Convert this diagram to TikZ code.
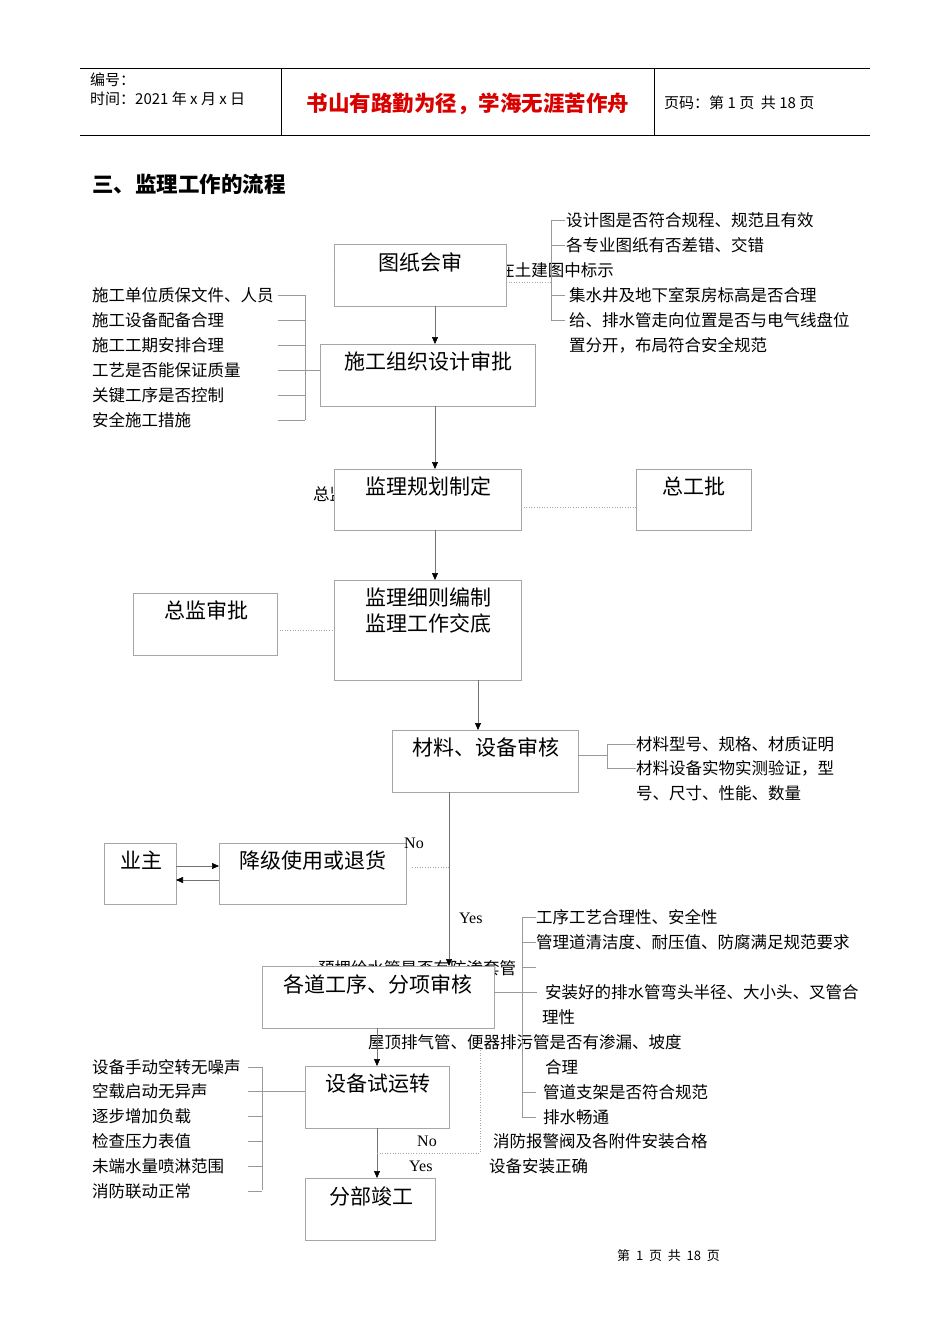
\documentclass[tikz,border=0pt]{standalone}
\usepackage{fontspec}
\setmainfont{Noto Sans CJK SC}
\newfontfamily\serifl{Liberation Serif}
\usetikzlibrary{arrows.meta}
\begin{document}
\begin{tikzpicture}[x=1pt,y=-1pt,
 bx/.style={draw=gray!70,fill=white,line width=0.6pt},
 lb/.style={inner sep=0,anchor=north,font=\fontsize{21}{25}\selectfont},
 tx/.style={inner sep=0,anchor=west,font=\fontsize{16.5}{19}\selectfont},
 ln/.style={draw=gray!80,line width=0.5pt},
 dl/.style={draw=gray!70,dotted,line width=0.6pt},
 ar/.style={draw=gray!90!black,line width=0.6pt,-{Triangle[length=7pt,width=6pt,black]}}]
\useasboundingbox[fill=white] (0,0) rectangle (950,1344);
% header
\draw[line width=0.6pt] (80,68)--(870,68) (80,135)--(870,135) (281,68)--(281,135) (654,68)--(654,135);
\node[tx,font=\fontsize{15}{17}\selectfont] (h1) at (90,80) {编号：};
\node[tx,font=\fontsize{15}{17}\selectfont] (h2) at (90,99) {时间：2021 年 x 月 x 日};
\node[inner sep=0,text=red!85!black,font=\bfseries\fontsize{21.5}{25}\selectfont] (h3) at (468,104) {书山有路勤为径，学海无涯苦作舟};
\node[tx,font=\fontsize{15}{17}\selectfont] (h4) at (664,103) {页码：第 1 页\ \ 共 18 页};
\node[tx,font=\bfseries\fontsize{21.5}{25}\selectfont] (t) at (92,184) {三、监理工作的流程};
\node[tx,font=\fontsize{13}{15}\selectfont] (f) at (617,1256) {第\ \ 1\ \ 页\ \ 共\ \ 18\ \ 页};
% hidden texts
\node[tx,anchor=east] (hid1) at (614,270) {各种管道预留孔洞是否在土建图中标示};
\node[tx] (hid2) at (313,494) {总监审批};
\node[tx] (hid3) at (318,968) {预埋给水管是否有防渗套管};
% right bracket of 图纸
\draw[ln] (551,220)--(551,320);
\foreach \y in {220,245,295,320} \draw[ln] (551,\y)--(565,\y);
\draw[dl] (506,282)--(551,282);
\node[tx] at (566,220) {设计图是否符合规程、规范且有效};
\node[tx] at (566,245) {各专业图纸有否差错、交错};
\node[tx] at (569,295) {集水井及地下室泵房标高是否合理};
\node[tx] at (569,320) {给、排水管走向位置是否与电气线盘位};
\node[tx] at (569,345) {置分开，布局符合安全规范};
% boxes
\draw[bx] (334,244) rectangle (506,306); \node[lb] (b1) at (420,253) {图纸会审};
\draw[bx] (320,344) rectangle (535,406); \node[lb] (b2) at (428,352) {施工组织设计审批};
\draw[bx] (334,469) rectangle (521,530); \node[lb] (b3) at (428,477) {监理规划制定};
\draw[bx] (636,469) rectangle (751,530); \node[lb] (b4) at (694,477) {总工批};
\draw[bx] (133,593) rectangle (277,655); \node[lb] (b5) at (206,601) {总监审批};
\draw[bx] (334,580) rectangle (521,680); \node[lb,align=center,font=\fontsize{21}{26}\selectfont] (b6) at (428,588) {监理细则编制\\监理工作交底};
\draw[bx] (392,730) rectangle (578,792); \node[lb] (b7) at (486,738) {材料、设备审核};
\draw[bx] (104,843) rectangle (176,904); \node[lb] (b8) at (141,851) {业主};
\draw[bx] (219,843) rectangle (406,904); \node[lb] (b9) at (313,851) {降级使用或退货};
\draw[bx] (262,966) rectangle (494,1028); \node[lb] (b10) at (378,974) {各道工序、分项审核};
\draw[bx] (305,1066) rectangle (449,1128); \node[lb] (b11) at (378,1074) {设备试运转};
\draw[bx] (305,1178) rectangle (435,1240); \node[lb] (b12) at (371,1186) {分部竣工};
% dotted links
\draw[dl] (521,507)--(636,507);
\draw[dl] (277,630)--(334,630);
% left bracket 施工
\draw[ln] (305,295)--(305,420) (305,370)--(320,370);
\foreach \y/\t in {295/施工单位质保文件、人员,320/施工设备配备合理,345/施工工期安排合理,370/工艺是否能保证质量,395/关键工序是否控制,420/安全施工措施}
 {\draw[ln] (278,\y)--(305,\y); \node[tx] at (92,\y) {\t};}
% bracket 材料
\draw[ln] (578,755)--(607,755) (607,744)--(607,768) (607,744)--(636,744) (607,768)--(636,768);
\node[tx] at (636,744) {材料型号、规格、材质证明};
\node[tx] at (636,768) {材料设备实物实测验证，型};
\node[tx] at (636,793) {号、尺寸、性能、数量};
% bracket 各道
\draw[ln] (522,917)--(522,1117) (494,992)--(537,992);
\foreach \y in {917,942,967,1092,1117} \draw[ln] (522,\y)--(536,\y);
\node[tx] at (536,917) {工序工艺合理性、安全性};
\node[tx] at (536,942) {管理道清洁度、耐压值、防腐满足规范要求};
\node[tx] at (545,992) {安装好的排水管弯头半径、大小头、叉管合};
\node[tx] at (542,1017) {理性};
\node[tx] at (368,1042) {屋顶排气管、便器排污管是否有渗漏、坡度};
\node[tx] at (545,1067) {合理};
\node[tx] at (543,1092) {管道支架是否符合规范};
\node[tx] at (543,1117) {排水畅通};
\node[tx] at (493,1141) {消防报警阀及各附件安装合格};
\node[tx] at (489,1166) {设备安装正确};
% left bracket 设备试运转
\draw[ln] (262,1067)--(262,1190) (262,1091)--(305,1091);
\foreach \y/\t in {1067/设备手动空转无噪声,1091/空载启动无异声,1116/逐步增加负载,1141/检查压力表值,1166/未端水量喷淋范围,1191/消防联动正常}
 {\draw[ln] (248,\y)--(262,\y); \node[tx] at (92,\y) {\t};}
% arrows
\draw[ar] (435,306)--(435,344);
\draw[ar] (435,406)--(435,469);
\draw[ar] (435,530)--(435,580);
\draw[ar] (478,680)--(478,730);
\draw[ar] (449,792)--(449,966);
\draw[dl] (449,867)--(412,867);
\draw[draw=none,-{Triangle[length=7pt,width=6pt,black]}] (416,867)--(406,867);
\node[tx,font=\serifl\fontsize{16}{18}\selectfont] at (404,843) {No};
\node[tx,font=\serifl\fontsize{16}{18}\selectfont] at (459,918) {Yes};
\draw[ar] (176,866)--(219,866);
\draw[ar] (219,880)--(176,880);
\draw[ar] (377,1028)--(377,1066);
\draw[ar] (377,1128)--(377,1178);
\draw[dl] (377,1153)--(480,1153)--(480,1036);
\draw[draw=none,-{Triangle[length=7pt,width=6pt,black]}] (480,1040)--(480,1028);
\node[tx,font=\serifl\fontsize{16}{18}\selectfont] at (417,1141) {No};
\node[tx,font=\serifl\fontsize{16}{18}\selectfont] at (409,1166) {Yes};
\end{tikzpicture}
\end{document}
